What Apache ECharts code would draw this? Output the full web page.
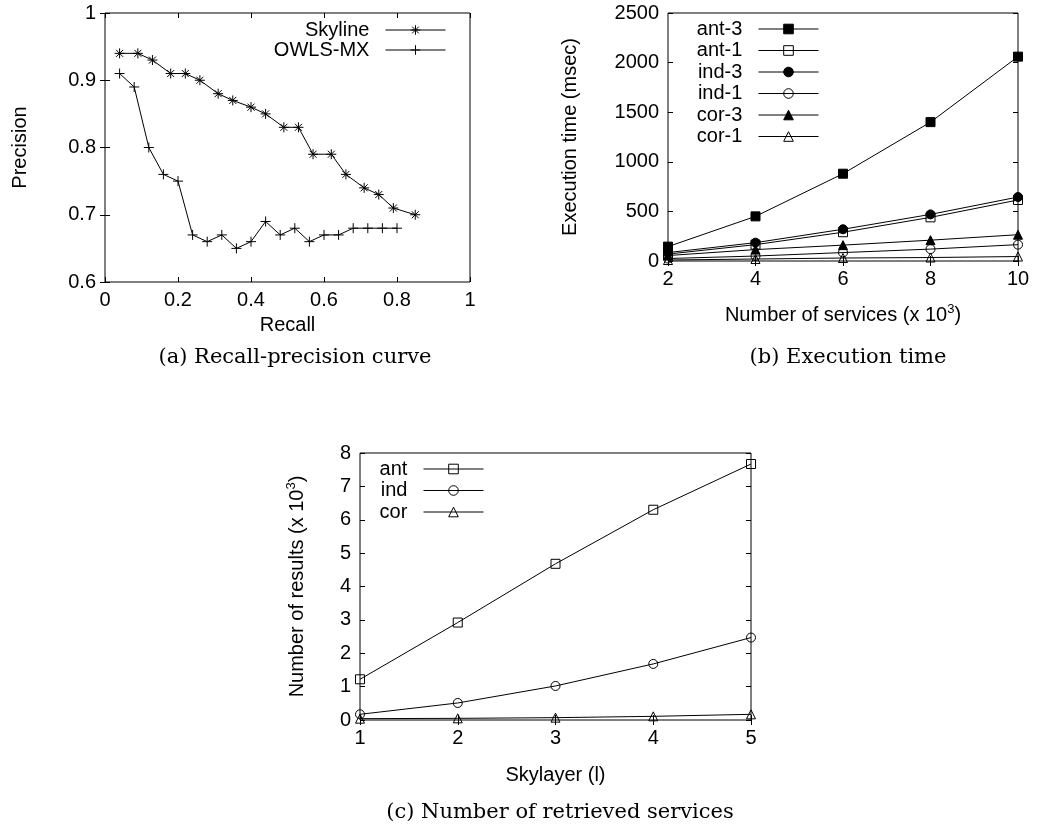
<!DOCTYPE html>
<html>
<head>
<meta charset="utf-8">
<script src="https://cdn.jsdelivr.net/npm/echarts@6/dist/echarts.min.js"></script>
<style>
  html, body { margin: 0; padding: 0; background: #fff; }
  #chart { width: 1040px; height: 830px; }
</style>
</head>
<body>
<div id="chart"></div>
<script>
// (a) recall / precision
const recallSky = [0.04, 0.09, 0.13, 0.18, 0.22, 0.26, 0.31, 0.35, 0.40, 0.44, 0.49, 0.53, 0.57, 0.62, 0.66, 0.71, 0.75, 0.79, 0.85]
const precSky = [0.94, 0.94, 0.93, 0.91, 0.91, 0.90, 0.88, 0.87, 0.86, 0.85, 0.83, 0.83, 0.79, 0.79, 0.76, 0.74, 0.73, 0.71, 0.70]
const recallOwls = [0.04, 0.08, 0.12, 0.16, 0.20, 0.24, 0.28, 0.32, 0.36, 0.40, 0.44, 0.48, 0.52, 0.56, 0.60, 0.64, 0.68, 0.72, 0.76, 0.80]
const precOwls = [0.91, 0.89, 0.80, 0.76, 0.75, 0.67, 0.66, 0.67, 0.65, 0.66, 0.69, 0.67, 0.68, 0.66, 0.67, 0.67, 0.68, 0.68, 0.68, 0.68]

// (b) execution time (msec)
const services = [2, 4, 6, 8, 10]
const ant3 = [145, 450, 880, 1400, 2060]
const ant1 = [70, 165, 290, 440, 615]
const ind3 = [85, 185, 320, 470, 645]
const ind1 = [25, 50, 85, 120, 165]
const cor3 = [55, 115, 160, 210, 265]
const cor1 = [10, 20, 30, 35, 45]

// (c) number of results (x 10^3)
const layers = [1, 2, 3, 4, 5]
const antRes = [1.22, 2.92, 4.68, 6.3, 7.67]
const indRes = [0.17, 0.51, 1.02, 1.68, 2.47]
const corRes = [0.04, 0.05, 0.07, 0.11, 0.17]

const zip = (xs, ys) => xs.map((x, i) => [x, ys[i]])

const FONT = 'Liberation Sans, Arial, sans-serif'
const STAR = 'path://M0 5 L10 5 M5 0 L5 10 M1.5 1.5 L8.5 8.5 M8.5 1.5 L1.5 8.5'
const PLUS = 'path://M0 5 L10 5 M5 0 L5 10'

const labelStyle = { color: '#000', fontSize: 20, fontFamily: FONT }
const supRich = { sup: { fontSize: 13, fontFamily: FONT, color: '#000', padding: [0, 0, 12, 0] } }

function mainX (grid, min, max, interval, name, gap) {
  return {
    type: 'value', gridIndex: grid, min, max, interval, position: 'bottom',
    name, nameLocation: 'middle', nameGap: gap,
    nameTextStyle: Object.assign({}, labelStyle, { rich: supRich }),
    axisLine: { show: false },
    axisTick: { inside: true, length: 5, lineStyle: { color: '#000' } },
    axisLabel: Object.assign({ margin: 8, formatter: v => String(v) }, labelStyle),
    splitLine: { show: false }
  }
}

function mainY (grid, min, max, interval, name, gap) {
  return {
    type: 'value', gridIndex: grid, min, max, interval, position: 'left',
    name, nameLocation: 'middle', nameGap: gap,
    nameTextStyle: Object.assign({}, labelStyle, { rich: supRich }),
    axisLine: { show: false },
    axisTick: { inside: true, length: 5, lineStyle: { color: '#000' } },
    axisLabel: Object.assign({ margin: 9, formatter: v => String(v) }, labelStyle),
    splitLine: { show: false }
  }
}

function mirror (type, grid, min, max, interval) {
  return {
    type: 'value', gridIndex: grid, min, max, interval,
    position: type === 'x' ? 'top' : 'right',
    axisLine: { show: false },
    axisTick: { inside: true, length: 5, lineStyle: { color: '#000' } },
    axisLabel: { show: false },
    splitLine: { show: false }
  }
}

function line (name, xi, yi, data, symbol, filled, size) {
  return {
    name, type: 'line', xAxisIndex: xi, yAxisIndex: yi, data,
    symbol, symbolSize: size || 9,
    lineStyle: { color: '#000', width: 1 },
    itemStyle: {
      color: filled ? '#000' : 'transparent',
      borderColor: '#000',
      borderWidth: 1
    },
    emphasis: { disabled: true },
    animation: false
  }
}

function legend (names, right, top, gap) {
  return {
    data: names, orient: 'vertical', align: 'right',
    right, top, itemGap: gap, itemWidth: 60, itemHeight: 12, padding: 0,
    formatter: n => n + '  ',
    lineStyle: { color: '#000', width: 1 },
    itemStyle: { borderWidth: 1 },
    textStyle: { color: '#000', fontSize: 20, fontFamily: FONT },
    selectedMode: false
  }
}

const captionStyle = { color: '#000', fontSize: 21, fontWeight: 'normal', fontFamily: 'DejaVu Serif, serif' }

const chart = echarts.init(document.getElementById('chart'), null, { renderer: 'canvas' })

chart.setOption({
  backgroundColor: '#fff',
  animation: false,
  title: [
    { text: '(a) Recall-precision curve', left: 290, top: 342, textAlign: 'center', textStyle: captionStyle },
    { text: '(b) Execution time', left: 843, top: 342, textAlign: 'center', textStyle: captionStyle },
    { text: '(c) Number of retrieved services', left: 555, top: 797, textAlign: 'center', textStyle: captionStyle }
  ],
  grid: [
    { left: 105, top: 13, width: 365, height: 269, show: true, borderColor: '#000', borderWidth: 1, backgroundColor: 'transparent' },
    { left: 668, top: 13, width: 350, height: 248, show: true, borderColor: '#000', borderWidth: 1, backgroundColor: 'transparent' },
    { left: 360, top: 453, width: 391, height: 267, show: true, borderColor: '#000', borderWidth: 1, backgroundColor: 'transparent' }
  ],
  xAxis: [
    mainX(0, 0, 1, 0.2, 'Recall', 33),
    mainX(1, 2, 10, 2, 'Number of services (x 10{sup|3})', 42),
    mainX(2, 1, 5, 1, 'Skylayer (l)', 45),
    mirror('x', 0, 0, 1, 0.2),
    mirror('x', 1, 2, 10, 2),
    mirror('x', 2, 1, 5, 1)
  ],
  yAxis: [
    mainY(0, 0.6, 1, 0.1, 'Precision', 75),
    mainY(1, 0, 2500, 500, 'Execution time (msec)', 88),
    mainY(2, 0, 8, 1, 'Number of results (x 10{sup|3})', 50),
    mirror('y', 0, 0.6, 1, 0.1),
    mirror('y', 1, 0, 2500, 500),
    mirror('y', 2, 0, 8, 1)
  ],
  legend: [
    legend(['Skyline', 'OWLS-MX'], 594, 20, 0),
    legend(['ant-3', 'ant-1', 'ind-3', 'ind-1', 'cor-3', 'cor-1'], 221, 19, 1.5),
    legend(['ant', 'ind', 'cor'], 556, 459, 1.5)
  ],
  series: [
    line('Skyline', 0, 0, zip(recallSky, precSky), STAR, true, 10),
    line('OWLS-MX', 0, 0, zip(recallOwls, precOwls), PLUS, true, 10),
    line('ant-3', 1, 1, zip(services, ant3), 'rect', true, 9),
    line('ant-1', 1, 1, zip(services, ant1), 'rect', false, 9),
    line('ind-3', 1, 1, zip(services, ind3), 'circle', true, 9),
    line('ind-1', 1, 1, zip(services, ind1), 'circle', false, 9),
    line('cor-3', 1, 1, zip(services, cor3), 'triangle', true, 9),
    line('cor-1', 1, 1, zip(services, cor1), 'triangle', false, 9),
    line('ant', 2, 2, zip(layers, antRes), 'rect', false, 9),
    line('ind', 2, 2, zip(layers, indRes), 'circle', false, 9),
    line('cor', 2, 2, zip(layers, corRes), 'triangle', false, 9)
  ]
})

window.addEventListener('resize', () => chart.resize())
</script>
</body>
</html>
